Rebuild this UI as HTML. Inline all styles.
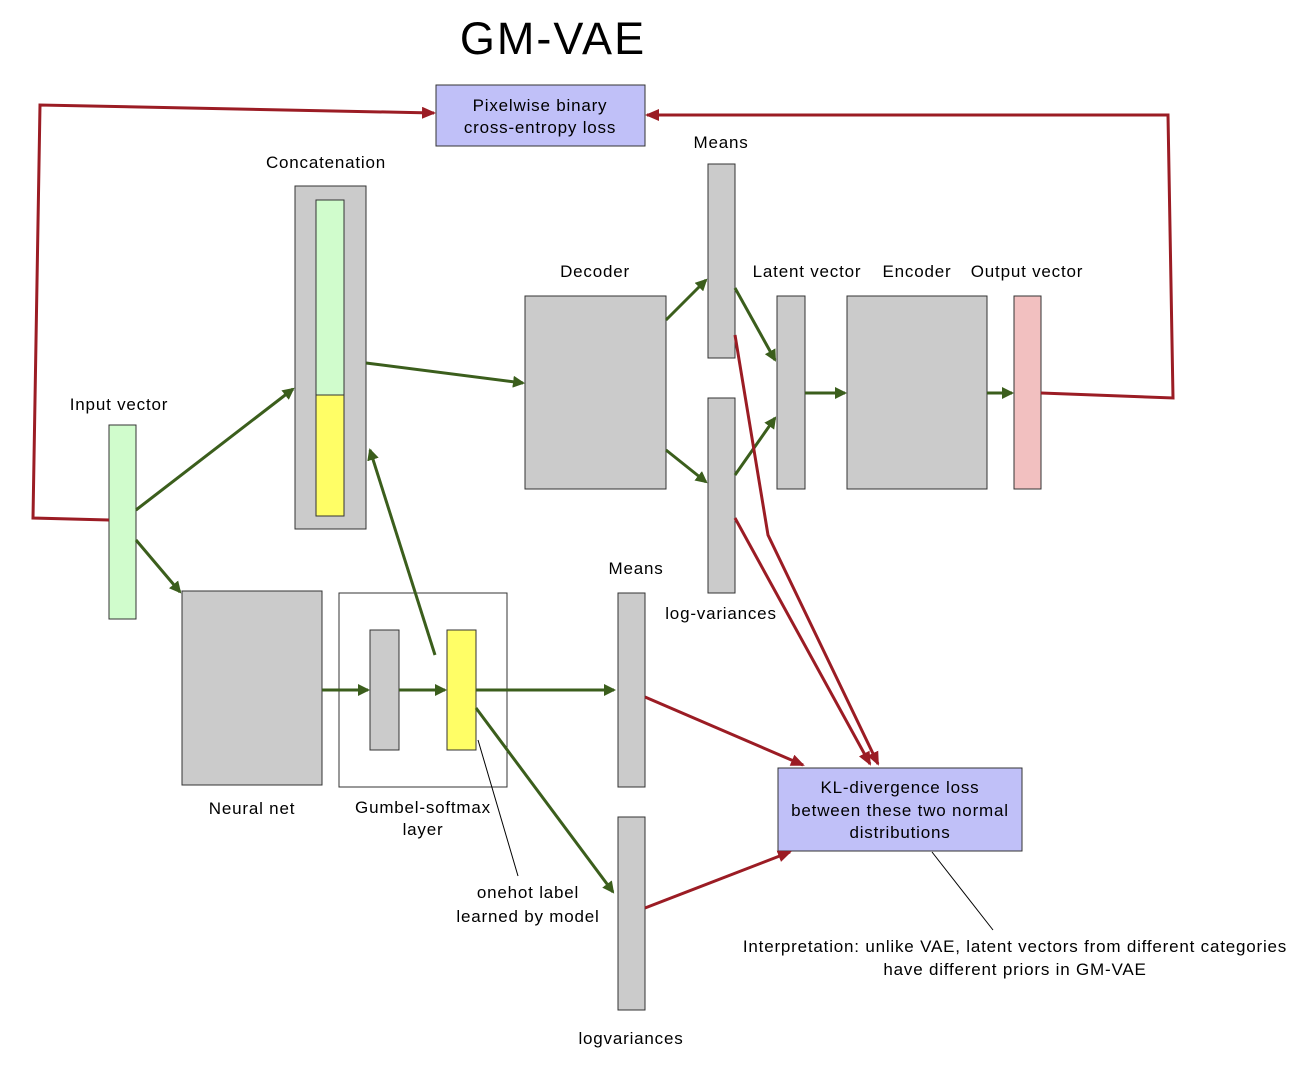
<!DOCTYPE html>
<html><head><meta charset="utf-8"><style>
html,body{margin:0;padding:0;background:#fff;}
svg{display:block;}
text{font-family:"Liberation Sans",Arial,sans-serif;font-size:17px;fill:#000;text-anchor:middle;letter-spacing:0.8px;}
</style></head><body>
<svg width="1316" height="1082" viewBox="0 0 1316 1082" xmlns="http://www.w3.org/2000/svg">
<defs>
<marker id="g" markerWidth="12" markerHeight="12" refX="10" refY="6" orient="auto" markerUnits="userSpaceOnUse"><path d="M0,0 L12,6 L0,12 z" fill="#3b5e1c"/></marker>
<marker id="r" markerWidth="14" markerHeight="12" refX="12" refY="6" orient="auto" markerUnits="userSpaceOnUse"><path d="M0,0 L14,6 L0,12 z" fill="#9b1c24"/></marker>
</defs>
<text x="553" y="54" style="font-size:45px;letter-spacing:2px">GM-VAE</text>
<rect x="436" y="85" width="209" height="61" fill="#c0c0f8" stroke="#333"/>
<text x="540" y="111">Pixelwise binary</text>
<text x="540" y="133">cross-entropy loss</text>

<text x="326" y="168">Concatenation</text>
<rect x="295" y="186" width="71" height="343" fill="#cbcbcb" stroke="#333"/>
<rect x="316" y="200" width="28" height="195" fill="#d0fccc" stroke="#333"/>
<rect x="316" y="395" width="28" height="121" fill="#fffe66" stroke="#333"/>

<text x="119" y="410">Input vector</text>
<rect x="109" y="425" width="27" height="194" fill="#d0fccc" stroke="#333"/>

<text x="595" y="277">Decoder</text>
<rect x="525" y="296" width="141" height="193" fill="#cbcbcb" stroke="#333"/>
<text x="721" y="148">Means</text>
<rect x="708" y="164" width="27" height="194" fill="#cbcbcb" stroke="#333"/>
<rect x="708" y="398" width="27" height="195" fill="#cbcbcb" stroke="#333"/>
<text x="721" y="619">log-variances</text>
<text x="807" y="277">Latent vector</text>
<rect x="777" y="296" width="28" height="193" fill="#cbcbcb" stroke="#333"/>
<text x="917" y="277">Encoder</text>
<rect x="847" y="296" width="140" height="193" fill="#cbcbcb" stroke="#333"/>
<text x="1027" y="277">Output vector</text>
<rect x="1014" y="296" width="27" height="193" fill="#f2c0c0" stroke="#333"/>

<rect x="182" y="591" width="140" height="194" fill="#cbcbcb" stroke="#333"/>
<text x="252" y="814">Neural net</text>
<rect x="339" y="593" width="168" height="194" fill="#fff" stroke="#333"/>
<rect x="370" y="630" width="29" height="120" fill="#cbcbcb" stroke="#333"/>
<rect x="447" y="630" width="29" height="120" fill="#fffe66" stroke="#333"/>
<text x="423" y="813">Gumbel-softmax</text>
<text x="423" y="835">layer</text>
<text x="636" y="574">Means</text>
<rect x="618" y="593" width="27" height="194" fill="#cbcbcb" stroke="#333"/>
<rect x="618" y="817" width="27" height="193" fill="#cbcbcb" stroke="#333"/>
<text x="631" y="1044">logvariances</text>

<rect x="778" y="768" width="244" height="83" fill="#c0c0f8" stroke="#333"/>
<text x="900" y="793">KL-divergence loss</text>
<text x="900" y="816">between these two normal</text>
<text x="900" y="838">distributions</text>

<text x="528" y="898">onehot label</text>
<text x="528" y="922">learned by model</text>
<text x="1015" y="952">Interpretation: unlike VAE, latent vectors from different categories</text>
<text x="1015" y="975">have different priors in GM-VAE</text>

<g stroke="#000" stroke-width="1" fill="none">
<line x1="478" y1="740" x2="518" y2="876"/>
<line x1="932" y1="852" x2="993" y2="930"/>
</g>

<g stroke="#3b5e1c" stroke-width="3" fill="none" marker-end="url(#g)">
<line x1="136" y1="510" x2="293" y2="389"/>
<line x1="136" y1="540" x2="180" y2="592"/>
<line x1="366" y1="363" x2="523" y2="383"/>
<line x1="435" y1="655" x2="370" y2="450"/>
<line x1="322" y1="690" x2="368" y2="690"/>
<line x1="399" y1="690" x2="445" y2="690"/>
<line x1="476" y1="690" x2="614" y2="690"/>
<line x1="476" y1="708" x2="613" y2="892"/>
<line x1="666" y1="320" x2="706" y2="280"/>
<line x1="666" y1="450" x2="706" y2="482"/>
<line x1="735" y1="288" x2="775" y2="360"/>
<line x1="735" y1="475" x2="775" y2="418"/>
<line x1="805" y1="393" x2="845" y2="393"/>
<line x1="987" y1="393" x2="1012" y2="393"/>
</g>

<g stroke="#9b1c24" stroke-width="3" fill="none" marker-end="url(#r)">
<polyline points="1041,393 1173,398 1168,115 647,115"/>
<polyline points="109,520 33,518 40,105 434,113"/>
<polyline points="735,335 768,535 878,764"/>
<line x1="735" y1="518" x2="870" y2="764"/>
<line x1="645" y1="697" x2="803" y2="765"/>
<line x1="645" y1="908" x2="790" y2="852"/>
</g>
</svg>
</body></html>
